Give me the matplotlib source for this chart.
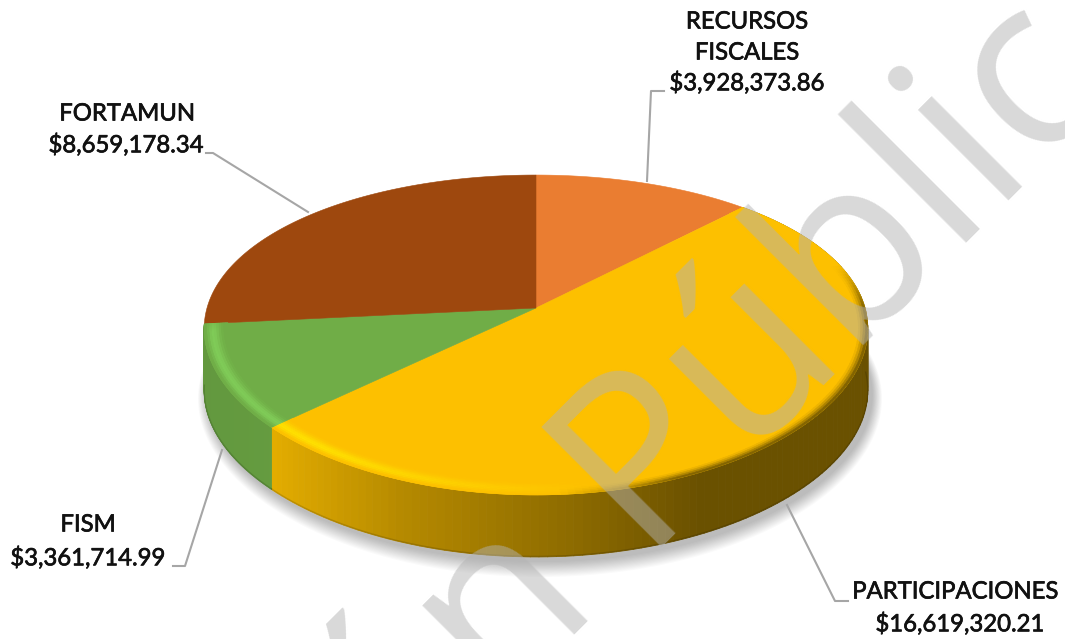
#!/usr/bin/env python3
import matplotlib
matplotlib.use("Agg")
import matplotlib.pyplot as plt
import matplotlib.patheffects as pe
from matplotlib.collections import PolyCollection
import numpy as np

# Chart data
names = ["RECURSOS\nFISCALES", "PARTICIPACIONES", "FISM", "FORTAMUN"]
amounts = [3928373.86, 16619320.21, 3361714.99, 8659178.34]
top_colors = ["#EA7D31", "#FDC000", "#70AD47", "#9E480E"]
glow_colors = ["#EA7D31", "#FFE000", "#80CC58", "#9E480E"]

# Projection of the tilted disc, in picture pixels
CX, CY = 536, 308
A, B, KX, KY = 329, 155.4, 0.13, 0.1687
DEPTH = 62


def project(theta, r=1.0):
    u, v = r * np.cos(theta), r * np.sin(theta)
    return CX + A * u / (1 + KX * v), CY - B * v / (1 + KY * v)


def side_shade(x):
    return np.interp(x, [205, 272, 400, 580, 700, 869], [0.88, 0.90, 0.72, 0.55, 0.42, 0.42])


def mix(c1, c2, t):
    c1 = np.array(matplotlib.colors.to_rgb(c1))
    c2 = np.array(matplotlib.colors.to_rgb(c2))
    return tuple(c1 * (1 - t) + c2 * t)


fig = plt.figure(figsize=(10.65, 6.39), dpi=100)
ax = fig.add_axes([0, 0, 1, 1])
ax.set_xlim(0, 1065)
ax.set_ylim(639, 0)
ax.axis("off")

fractions = np.array(amounts) / sum(amounts)
edges = np.pi / 2 - 2 * np.pi * np.concatenate([[0], np.cumsum(fractions)])

# soft shadow under the disc
ring = np.linspace(0, 2 * np.pi, 360)
sx, sy = project(ring)
for i in range(14):
    grow = 1 + 0.0022 * (14 - i)
    px = 540 + (sx - 536) * grow
    py = 340 + (sy + DEPTH + 4 - 340) * (grow + 0.003 * (14 - i))
    ax.fill(px, py, color="#000000", alpha=0.018, lw=0, zorder=1)

# side wall, cut in thin strips for the gradient (only the two front slices show one)
for i in [1, 2]:
    color = top_colors[i]
    angles = np.linspace(edges[i], edges[i + 1], 140)
    x, y = project(angles)
    polys, fc = [], []
    for j in range(len(angles) - 1):
        polys.append([(x[j], y[j]), (x[j + 1], y[j + 1]),
                      (x[j + 1], y[j + 1] + DEPTH), (x[j], y[j] + DEPTH)])
        fc.append(mix("#000000", color, side_shade((x[j] + x[j + 1]) / 2)))
    ax.add_collection(PolyCollection(polys, facecolors=fc, edgecolors=fc, linewidths=0.6, zorder=2))
    front = np.sin(angles) < 0.0
    ax.plot(x[front], y[front] + DEPTH - 0.5, color="#000000", alpha=0.15, lw=1.0, zorder=3)

# top face
for i, color in enumerate(top_colors):
    angles = np.linspace(edges[i], edges[i + 1], 200)
    x, y = project(angles)
    ax.fill(np.r_[CX, x], np.r_[CY, y], color=color, lw=0.4, zorder=4)

# bevel along the rim
radii = np.linspace(0.93, 1.0, 11)
for i in [1, 2]:
    color = top_colors[i]
    angles = np.linspace(edges[i], edges[i + 1], 160)
    polys, fc = [], []
    for r0, r1 in zip(radii[:-1], radii[1:]):
        x0, y0 = project(angles, r0)
        x1, y1 = project(angles, r1)
        t = ((r0 + r1) / 2 - radii[0]) / (radii[-1] - radii[0])
        for j in range(len(angles) - 1):
            xm = x1[j]
            sn = np.sin(angles[j])
            glow = np.clip((600 - xm) / 280, 0, 1) * np.clip(-sn / 0.15, 0, 1) * np.sin(np.pi * t ** 1.5) ** 2
            dark = np.clip((xm - 560) / 120, 0, 1) * np.clip((0.3 - sn) / 0.3, 0, 1) * np.clip((t - 0.55) / 0.45, 0, 1) ** 1.5
            c = mix(color, glow_colors[i], glow)
            c = mix(c, mix("#000000", color, side_shade(xm)), dark)
            polys.append([(x0[j], y0[j]), (x0[j + 1], y0[j + 1]), (x1[j + 1], y1[j + 1]), (x1[j], y1[j])])
            fc.append(c)
    ax.add_collection(PolyCollection(polys, facecolors=fc, edgecolors=fc, linewidths=0.4, zorder=5))

# leader lines
for lx, ly in [([308, 213, 206], [212, 153, 153]),
               ([647, 651, 664], [181, 91, 91]),
               ([222, 185, 173], [450, 566, 566]),
               ([787, 835, 848], [505, 601, 601])]:
    ax.plot(lx, ly, color="#A6A6A6", lw=1.5, zorder=6)

# labels
money = ["$" + format(v, ",.2f") for v in amounts]
lab = dict(family="Lato", fontsize=17.2, color="#111111", ha="center", va="center", zorder=7,
           path_effects=[pe.withStroke(linewidth=0.5, foreground="#111111")])
ax.text(747, 22, "RECURSOS", **lab)
ax.text(747, 53, "FISCALES", **lab)
ax.text(747, 83, money[0], **lab)
ax.text(955, 592, names[1], **lab)
ax.text(960, 624, money[1], **lab)
ax.text(88, 525, names[2], **lab)
ax.text(88, 558, money[2], **lab)
ax.text(127, 114, names[3], **lab)
ax.text(126, 145, money[3], **lab)

# watermark
ax.text(568, 553, "Versión Pública", family="Open Sans", fontsize=171, color="#B3B3B3", alpha=0.5,
        rotation=45, rotation_mode="anchor", ha="center", va="center", zorder=8)

fig.savefig("out.png", dpi=100)
